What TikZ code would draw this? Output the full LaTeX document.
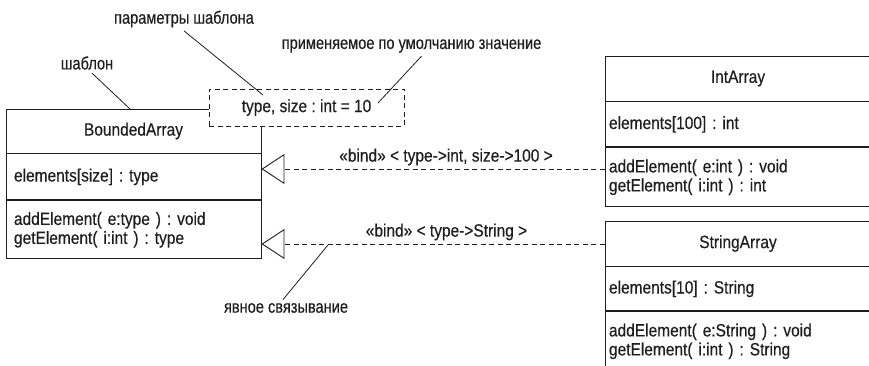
\documentclass[tikz,border=0pt]{standalone}
\usepackage{fontspec}
\setmainfont{Liberation Sans}[FakeStretch=0.87, FakeBold=0.4]
\newfontfamily\notefont{Liberation Sans}[FakeStretch=0.82, FakeBold=0.4]
\usepackage{tikz}
\usetikzlibrary{arrows.meta, positioning}
\definecolor{InkGray}{RGB}{30,30,30}
\frenchspacing

\begin{document}
\begin{tikzpicture}[x=1pt, y=-1pt, InkGray,
  every node/.style={font=\fontsize{17.8}{19}\selectfont, text=InkGray},
  part/.style={draw=InkGray, line width=0.9pt, inner ysep=0pt, align=left},
  lpart/.style={part, inner xsep=8pt, text width=239pt},
  rpart/.style={part, inner xsep=4pt, text width=258pt},
  tmpl/.style={draw=InkGray, dash pattern=on 5pt off 3.5pt, fill=white, line width=0.9pt,
               minimum width=195pt, minimum height=37pt, inner sep=0pt},
  bindarr/.style={-{Triangle[open, length=23pt, width=30pt, line width=0.9pt]},
                  dash pattern=on 5pt off 3.5pt, line width=0.9pt},
  notetext/.style={font=\notefont\fontsize{17.8}{19}\selectfont},
  note/.style={line width=0.8pt},
]
\clip (0,0) rectangle (869,366);

\node[lpart, align=center, minimum height=44pt] (ba) at (133.5,131) {BoundedArray};
\node[lpart, minimum height=46pt, below=0pt of ba] (baattr) {elements[size] : type};
\node[lpart, minimum height=58pt, below=0pt of baattr] (baops) {addElement( e:type ) : void\\getElement( i:int ) : type};

\node[rpart, align=center, minimum height=45pt] (ia) at (738,78.5) {IntArray};
\node[rpart, minimum height=45pt, below=0pt of ia] (iaattr) {elements[100] : int};
\node[rpart, minimum height=59pt, below=0pt of iaattr] (iaops) {addElement( e:int ) : void\\getElement( i:int ) : int};

\node[rpart, align=center, minimum height=45pt] (sa) at (738,243.5) {StringArray};
\node[rpart, minimum height=44pt, below=0pt of sa] (saattr) {elements[10] : String};
\node[rpart, minimum height=59pt, below=0pt of saattr] (saops) {addElement( e:String ) : void\\getElement( i:int ) : String};

\node[tmpl] (tpl) at (306.5,107.5) {type, size : int = 10};

\draw[bindarr] (iaops.west |- 0,169) -- (baattr.east |- 0,169);
\draw[bindarr] (sa.west |- 0,244) -- (baops.east |- 0,244);
\node (bind1) at (446,157) {«bind» < type->int, size->100 >};
\node (bind2) at (446.5,232) {«bind» < type->String >};

\node[notetext] (nTpl) at (87,63) {шаблон};
\coordinate (tplEnd) at (130,109);
\draw[note] ([xshift=5pt]nTpl.south) -- (tplEnd);

\node[notetext] (nPar) at (184,19) {параметры шаблона};
\coordinate (parEnd) at (263,95);
\draw[note] (nPar.south) -- (parEnd);

\node[notetext] (nDef) at (411.5,46) {применяемое по умолчанию значение};
\coordinate (defEnd) at (378,103);
\draw[note] ([xshift=10pt]nDef.south) -- (defEnd);

\node[notetext] (nBind) at (286,308) {явное связывание};
\coordinate (bindEnd) at (328,245);
\draw[note] ([xshift=-3pt]nBind.north) -- (bindEnd);
\end{tikzpicture}
\end{document}
